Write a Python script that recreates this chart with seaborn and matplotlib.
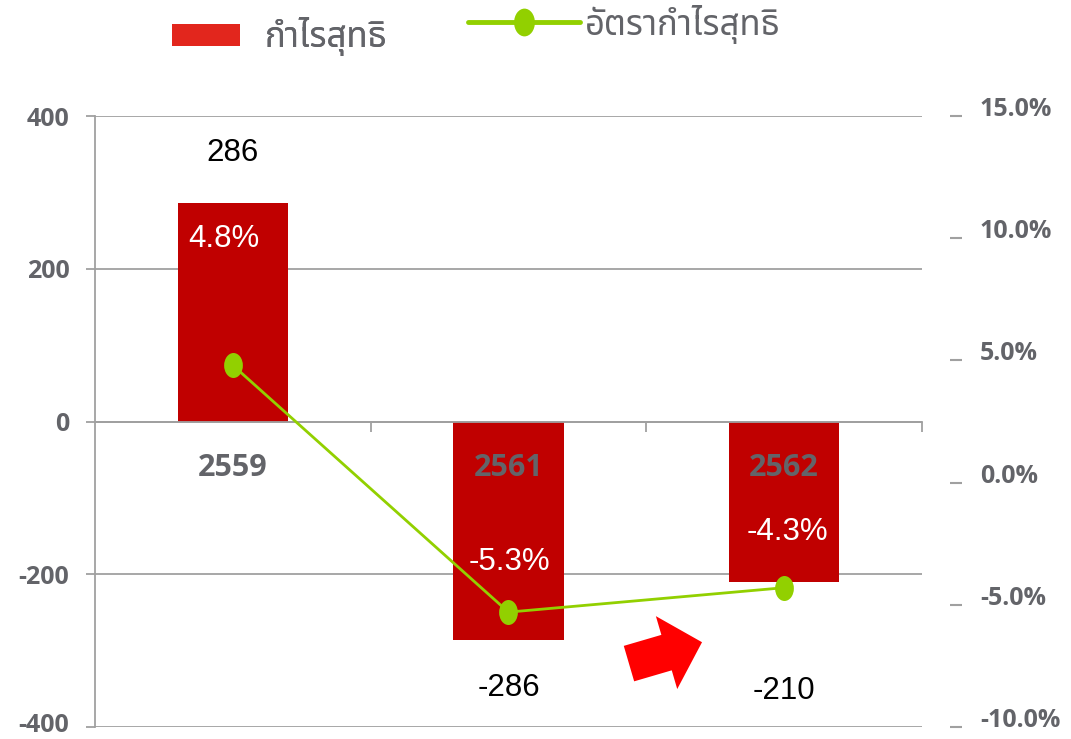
import numpy as np
import matplotlib
matplotlib.use("Agg")
import matplotlib.pyplot as plt
from matplotlib import font_manager
from matplotlib.font_manager import FontProperties
from matplotlib.path import Path
from matplotlib.markers import MarkerStyle
from matplotlib.transforms import Affine2D, ScaledTranslation
from matplotlib.patches import Patch
from matplotlib.lines import Line2D
import seaborn as sns

# --- Data ---
years = ["2559", "2561", "2562"]
net_profit = [286, -286, -210]
net_margin = [4.8, -5.3, -4.3]
profit_labels = ["286", "-286", "-210"]
margin_labels = ["4.8%", "-5.3%", "-4.3%"]
left_ticks = [-400, -200, 0, 200, 400]
right_ticks = [-10, -5, 0, 5, 10, 15]
legend_labels = ["กำไรสุทธิ", "อัตรากำไรสุทธิ"]

# --- Styles ---
BAR_RED = "#C00000"
LEGEND_RED = "#E2261D"
GREEN = "#92D000"
GREY_TXT = "#636469"
GRID = "#A0A0A0"


def find_thai_family():
    # look for an installed font that has Thai glyphs
    from fontTools.ttLib import TTFont
    preferred = ["Noto Sans Thai", "Noto Sans Thai UI", "Noto Sans Thai Looped",
                 "Loma", "Garuda", "Tlwg Typo", "Waree", "Umpush", "Sarabun", "Kinnari", "Norasi"]
    found = {}
    for f in font_manager.fontManager.ttflist:
        try:
            tt = TTFont(f.fname, fontNumber=0, lazy=True)
            cmap = tt.getBestCmap()
            if cmap and 0x0E01 in cmap:
                found.setdefault(f.name, f.fname)
        except Exception:
            continue
    for name in preferred:
        if name in found:
            return name
    return next(iter(found), None)


sns.set_theme(style="white")
thai = find_thai_family()
thai_fams = [thai, "DejaVu Sans"] if thai else ["DejaVu Sans"]
plt.rcParams["font.family"] = thai_fams
plt.rcParams["axes.unicode_minus"] = False

fig = plt.figure(figsize=(10.71, 7.39), dpi=100)
ax = fig.add_axes([95 / 1071, 12 / 739, 827 / 1071, 611 / 739])

# --- Bars ---
sns.barplot(x=years, y=net_profit, color=BAR_RED, saturation=1, width=0.4,
            errorbar=None, linewidth=0, ax=ax, zorder=2)
ax.set_xlim(-0.5, 2.5)
ax.set_ylim(-400, 400)
ax.set_yticks(left_ticks)
ax.set_xlabel("")
ax.set_ylabel("")
# grid drawn by hand behind the bars so the year labels can sit on top of them
ax.set_axisbelow(False)
ax.grid(False)
for t in left_ticks:
    ax.axhline(t, color=GRID, linewidth=1.3, zorder=0)

for side in ["top", "right"]:
    ax.spines[side].set_visible(False)
ax.spines["left"].set_color(GRID)
ax.spines["left"].set_linewidth(1.3)
ax.spines["bottom"].set_position(("data", 0))
ax.spines["bottom"].set_color(GRID)
ax.spines["bottom"].set_linewidth(1.3)

tick_font = dict(family="Open Sans", weight="bold")
ax.tick_params(axis="y", left=True, direction="out", length=6.5, width=1.3,
               color=GRID, pad=12, labelsize=18, labelcolor=GREY_TXT)
ax.tick_params(axis="x", which="major", bottom=True, length=0, pad=23,
               labelsize=22, labelcolor=GREY_TXT)
ax.set_xticks([0.5, 1.5, 2.5], minor=True)
ax.tick_params(axis="x", which="minor", bottom=True, direction="out",
               length=7, width=1.3, color=GRID)
for lab in ax.get_yticklabels() + ax.get_xticklabels():
    lab.set_fontproperties(FontProperties(size=lab.get_fontsize(), **tick_font))
# nudge the lowest label up a little so it stays inside the figure
low = ax.get_yticklabels()[0]
low.set_transform(low.get_transform() + ScaledTranslation(0, 3 / 72, fig.dpi_scale_trans))

# --- Value labels ---
profit_offsets = [50, -48, -109]
margin_offsets = [(-9, -36), (1, 78), (3, 50)]
for i, (v, lab, off) in enumerate(zip(net_profit, profit_labels, profit_offsets)):
    ax.annotate(lab, (i, v), xytext=(0, off), textcoords="offset pixels",
                ha="center", va="center", fontsize=22.5,
                family="Liberation Sans", color="black", zorder=4)
for i, (v, lab, off) in enumerate(zip(net_profit, margin_labels, margin_offsets)):
    ax.annotate(lab, (i, v), xytext=off, textcoords="offset pixels",
                ha="center", va="center", fontsize=22.5,
                family="Liberation Sans", color="white", zorder=4)

# --- Red arrow ---
ax.annotate("", xy=(1.702, -289), xytext=(1.437, -317),
            arrowprops=dict(arrowstyle="simple,head_length=26.6,head_width=54.7,tail_width=26.6",
                            mutation_scale=1, color="#FF0000", lw=0,
                            shrinkA=0, shrinkB=0))

# --- Margin line on secondary axis ---
ellipse = MarkerStyle(Path.unit_circle().transformed(Affine2D().scale(0.75, 1.0)))
ax2 = ax.twinx()
sns.lineplot(x=np.arange(len(years)), y=net_margin, ax=ax2, color=GREEN,
             linewidth=2, marker=ellipse, markersize=18, markeredgewidth=0,
             markerfacecolor=GREEN)
ax2.set_ylim(-10, 15)
ax2.set_yticks(right_ticks)
ax2.set_yticklabels([f"{v:.1f}%" for v in right_ticks])
ax2.set_ylabel("")
for side in ax2.spines:
    ax2.spines[side].set_visible(False)
ax2.spines["right"].set_position(("outward", 20))
ax2.tick_params(axis="y", right=True, direction="out", length=8.6, width=1.5,
                color=GRID, pad=13, labelsize=18, labelcolor=GREY_TXT)
for lab in ax2.get_yticklabels():
    lab.set_fontproperties(FontProperties(size=18, **tick_font))
    lab.set_va("baseline")
ax2.grid(False)

# --- Legends ---
leg_font = FontProperties(family=thai_fams, weight="bold", size=25)
leg1 = fig.legend(handles=[Patch(facecolor=LEGEND_RED, edgecolor="none")],
                  labels=[legend_labels[0]], loc="center left",
                  bbox_to_anchor=(172 / 1071, 1 - 37 / 739), frameon=False,
                  borderpad=0, borderaxespad=0, handlelength=1.96,
                  handleheight=0.58, handletextpad=0.72, prop=leg_font,
                  labelcolor=GREY_TXT)
fig.add_artist(leg1)
fig.legend(handles=[Line2D([], [], color=GREEN, linewidth=3.5, marker=ellipse,
                           markersize=20, markeredgewidth=0)],
           labels=[legend_labels[1]], loc="center left",
           bbox_to_anchor=(468 / 1071, 1 - 24 / 739), frameon=False,
           borderpad=0, borderaxespad=0, handlelength=3.23,
           handletextpad=0.15, prop=leg_font, labelcolor=GREY_TXT, numpoints=1)

fig.savefig("out.png", dpi=100)
